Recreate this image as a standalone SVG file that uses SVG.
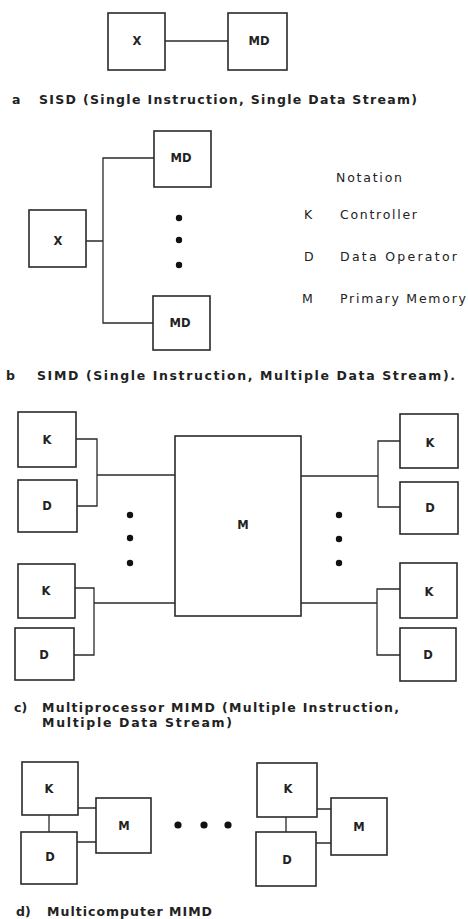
<svg xmlns="http://www.w3.org/2000/svg" width="468" height="919" viewBox="0 0 468 919">
<style>
.box{fill:none;stroke:#2a2a2a;stroke-width:1.6}
.ln{fill:none;stroke:#2a2a2a;stroke-width:1.3}
.lbl{font-family:"DejaVu Sans","Liberation Sans",sans-serif;font-size:11.5px;font-weight:bold;fill:#222;text-anchor:middle}
.cap{font-family:"DejaVu Sans","Liberation Sans",sans-serif;font-size:12.5px;font-weight:bold;fill:#222}
.note{font-family:"DejaVu Sans","Liberation Sans",sans-serif;font-size:12.5px;fill:#222}
.dot{fill:#111}
</style>
<rect width="468" height="919" fill="#fff"/>

<!-- (a) SISD -->
<g id="a-X"><rect class="box" x="108" y="13" width="57" height="57"/><text class="lbl" x="137" y="45">X</text></g>
<g id="a-MD"><rect class="box" x="228" y="13" width="59" height="57"/><text class="lbl" x="259" y="45">MD</text></g>

<!-- (b) SIMD -->
<g id="b-X"><rect class="box" x="29" y="210" width="57" height="57"/><text class="lbl" x="58" y="245">X</text></g>
<g id="b-MD1"><rect class="box" x="154" y="131" width="57" height="56"/><text class="lbl" x="181" y="162">MD</text></g>
<g id="b-MD2"><rect class="box" x="153" y="296" width="57" height="54"/><text class="lbl" x="180" y="327">MD</text></g>
<g id="b-dots"><circle class="dot" cx="179" cy="218" r="3.2"/><circle class="dot" cx="179" cy="240" r="3.2"/><circle class="dot" cx="179" cy="265" r="3.2"/></g>

<g id="notation" class="note">
<text x="336" y="182" textLength="66" lengthAdjust="spacing">Notation</text>
<text x="304" y="219">K</text><text x="340" y="219" textLength="77" lengthAdjust="spacing">Controller</text>
<text x="304" y="261">D</text><text x="340" y="261" textLength="117" lengthAdjust="spacing">Data Operator</text>
<text x="302" y="303">M</text><text x="340" y="303" textLength="126" lengthAdjust="spacing">Primary Memory</text>
</g>

<!-- (c) Multiprocessor MIMD -->
<g id="c-M"><rect class="box" x="175" y="436" width="126" height="180"/><text class="lbl" x="243" y="529">M</text></g>
<g id="c-K1"><rect class="box" x="18" y="412" width="58" height="55"/><text class="lbl" x="47" y="444">K</text></g>
<g id="c-D1"><rect class="box" x="18" y="480" width="59" height="52"/><text class="lbl" x="47" y="510">D</text></g>
<g id="c-K2"><rect class="box" x="18" y="564" width="57" height="54"/><text class="lbl" x="46" y="595">K</text></g>
<g id="c-D2"><rect class="box" x="15" y="628" width="59" height="52"/><text class="lbl" x="44" y="659">D</text></g>
<g id="c-K3"><rect class="box" x="400" y="414" width="58" height="54"/><text class="lbl" x="430" y="447">K</text></g>
<g id="c-D3"><rect class="box" x="400" y="482" width="58" height="52"/><text class="lbl" x="430" y="512">D</text></g>
<g id="c-K4"><rect class="box" x="400" y="563" width="57" height="55"/><text class="lbl" x="429" y="596">K</text></g>
<g id="c-D4"><rect class="box" x="400" y="628" width="56" height="53"/><text class="lbl" x="428" y="659">D</text></g>
<g id="c-dots"><circle class="dot" cx="130" cy="515" r="3.2"/><circle class="dot" cx="130" cy="538" r="3.2"/><circle class="dot" cx="130" cy="563" r="3.2"/><circle class="dot" cx="339" cy="515" r="3.2"/><circle class="dot" cx="339" cy="539" r="3.2"/><circle class="dot" cx="339" cy="563" r="3.2"/></g>

<!-- (d) Multicomputer MIMD -->
<g id="d-K1"><rect class="box" x="22" y="762" width="56" height="53"/><text class="lbl" x="49" y="793">K</text></g>
<g id="d-D1"><rect class="box" x="21" y="832" width="56" height="52"/><text class="lbl" x="50" y="861">D</text></g>
<g id="d-M1"><rect class="box" x="96" y="798" width="55" height="55"/><text class="lbl" x="124" y="830">M</text></g>
<g id="d-K2"><rect class="box" x="257" y="763" width="60" height="54"/><text class="lbl" x="288" y="793">K</text></g>
<g id="d-D2"><rect class="box" x="256" y="832" width="60" height="54"/><text class="lbl" x="287" y="864">D</text></g>
<g id="d-M2"><rect class="box" x="331" y="798" width="56" height="57"/><text class="lbl" x="359" y="831">M</text></g>
<g id="d-dots"><circle class="dot" cx="178" cy="825" r="3.6"/><circle class="dot" cx="204" cy="825" r="3.6"/><circle class="dot" cx="228" cy="825" r="3.6"/></g>

<g id="connectors">
<path class="ln" d="M165 41H228"/>
<path class="ln" d="M86 241H103M154 158H103V323H153"/>
<path class="ln" d="M76 439H97V506H77M97 475H175"/>
<path class="ln" d="M75 588H94V655H74M94 603H175"/>
<path class="ln" d="M400 441H378V507H400M301 476H378"/>
<path class="ln" d="M400 589H377V655H400M301 603H377"/>
<path class="ln" d="M49 815V832M78 808H96M77 842H96"/>
<path class="ln" d="M286 817V832M317 809H331M316 843H331"/>
</g>

<g id="captions" class="cap">
<text x="12" y="104">a</text>
<text x="39" y="104" textLength="378" lengthAdjust="spacing">SISD (Single Instruction, Single Data Stream)</text>
<text x="6" y="380">b</text>
<text x="37" y="380" textLength="418" lengthAdjust="spacing">SIMD (Single Instruction, Multiple Data Stream).</text>
<text x="14" y="712">c)</text>
<text x="42" y="712" textLength="357" lengthAdjust="spacing">Multiprocessor MIMD (Multiple Instruction,</text>
<text x="42" y="727" textLength="190" lengthAdjust="spacing">Multiple Data Stream)</text>
<text x="16" y="916">d)</text>
<text x="47" y="916" textLength="165" lengthAdjust="spacing">Multicomputer MIMD</text>
</g>
</svg>
